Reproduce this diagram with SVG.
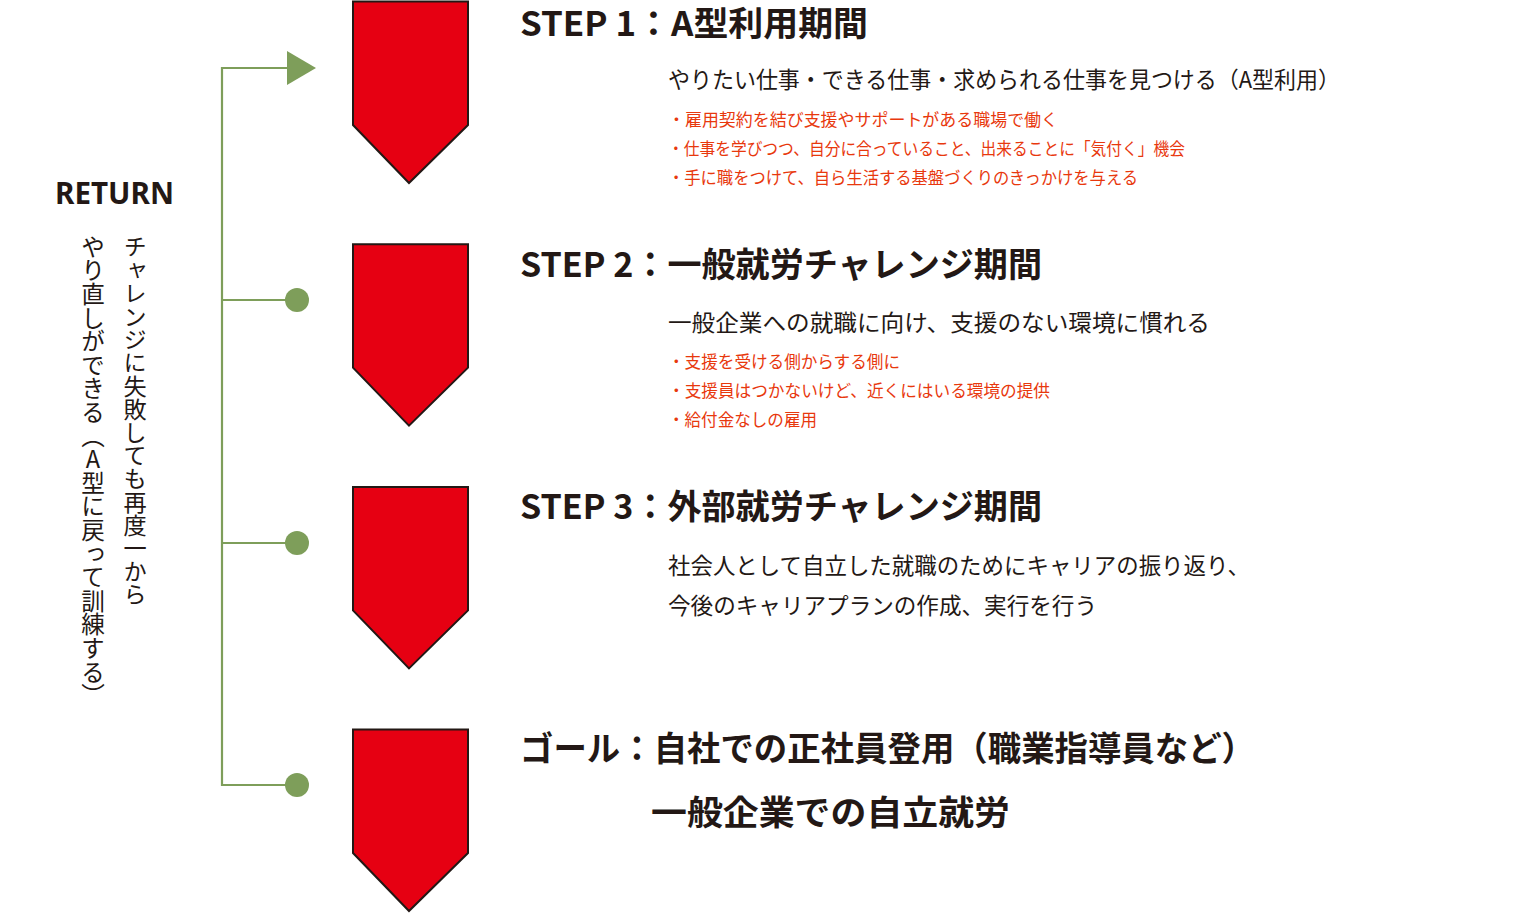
<svg xmlns="http://www.w3.org/2000/svg" width="1535" height="913" viewBox="0 0 1535 913">
<style>
.bg{fill:#ffffff}
.pent{fill:#e60012;stroke:#231815;stroke-width:2;stroke-linejoin:miter}
.ln{fill:none;stroke:#7e9e5a;stroke-width:2.2}
.dot{fill:#7e9e5a}
.t{font-family:"Noto Sans CJK JP","Noto Sans",sans-serif;fill:#231815;dominant-baseline:central}
.title{font-size:34px;font-weight:700}
.sub{font-size:22.5px;font-weight:400}
.bul{font-size:17px;font-weight:400;fill:#e8380d}
.ret{font-family:"Noto Sans","Open Sans",sans-serif;font-size:31px;font-weight:700;fill:#231815;dominant-baseline:central}
.vt{font-family:"Noto Sans CJK JP",sans-serif;fill:#231815;writing-mode:vertical-rl;text-orientation:upright}
</style>
<defs>
<polygon id="pent" class="pent" points="353,1.5 468,1.5 468,125 409,183 353,125"/>
</defs>
<rect class="bg" x="0" y="0" width="1535" height="913"/>

<g id="connectors">
<polyline class="ln" points="288,68 222,68 222,785 286,785"/>
<line class="ln" x1="222" y1="300" x2="286" y2="300"/>
<line class="ln" x1="222" y1="543" x2="286" y2="543"/>
<polygon class="dot" points="287,51 316,68 287,85"/>
<circle class="dot" cx="297" cy="300" r="12"/>
<circle class="dot" cx="297" cy="543" r="12"/>
<circle class="dot" cx="297" cy="785" r="12"/>
</g>

<g id="return">
<text class="ret" x="55" y="192" textLength="119" lengthAdjust="spacingAndGlyphs">RETURN</text>
<text class="vt" x="135" y="235" font-size="23.2">チャレンジに失敗しても再度一から</text>
<text class="vt" x="93" y="235" font-size="23.6">やり直しができる（A型に戻って訓練する）</text>
</g>

<g id="step1">
<use href="#pent"/>
<text class="t title" x="520" y="21" textLength="348" lengthAdjust="spacingAndGlyphs">STEP 1：A型利用期間</text>
<text class="t sub" x="668" y="78" textLength="672" lengthAdjust="spacingAndGlyphs">やりたい仕事・できる仕事・求められる仕事を見つける（A型利用）</text>
<text class="t bul" x="668" y="118" textLength="390" lengthAdjust="spacingAndGlyphs">・雇用契約を結び支援やサポートがある職場で働く</text>
<text class="t bul" x="668" y="147" textLength="517" lengthAdjust="spacingAndGlyphs">・仕事を学びつつ、自分に合っていること、出来ることに「気付く」機会</text>
<text class="t bul" x="668" y="176" textLength="470" lengthAdjust="spacingAndGlyphs">・手に職をつけて、自ら生活する基盤づくりのきっかけを与える</text>
</g>

<g id="step2">
<use href="#pent" transform="translate(0,242.7)"/>
<text class="t title" x="520" y="262" textLength="522" lengthAdjust="spacingAndGlyphs">STEP 2：一般就労チャレンジ期間</text>
<text class="t sub" x="668" y="321" textLength="542" lengthAdjust="spacingAndGlyphs">一般企業への就職に向け、支援のない環境に慣れる</text>
<text class="t bul" x="668" y="360" textLength="232" lengthAdjust="spacingAndGlyphs">・支援を受ける側からする側に</text>
<text class="t bul" x="668" y="389" textLength="382" lengthAdjust="spacingAndGlyphs">・支援員はつかないけど、近くにはいる環境の提供</text>
<text class="t bul" x="668" y="418" textLength="149" lengthAdjust="spacingAndGlyphs">・給付金なしの雇用</text>
</g>

<g id="step3">
<use href="#pent" transform="translate(0,485.4)"/>
<text class="t title" x="520" y="504" textLength="522" lengthAdjust="spacingAndGlyphs">STEP 3：外部就労チャレンジ期間</text>
<text class="t sub" x="668" y="564" textLength="582" lengthAdjust="spacingAndGlyphs">社会人として自立した就職のためにキャリアの振り返り、</text>
<text class="t sub" x="668" y="604" textLength="429" lengthAdjust="spacingAndGlyphs">今後のキャリアプランの作成、実行を行う</text>
</g>

<g id="goal">
<use href="#pent" transform="translate(0,728)"/>
<text class="t title" x="520" y="746" textLength="735" lengthAdjust="spacingAndGlyphs">ゴール：自社での正社員登用（職業指導員など）</text>
<text class="t title" x="651" y="810" textLength="359" lengthAdjust="spacingAndGlyphs">一般企業での自立就労</text>
</g>
</svg>
